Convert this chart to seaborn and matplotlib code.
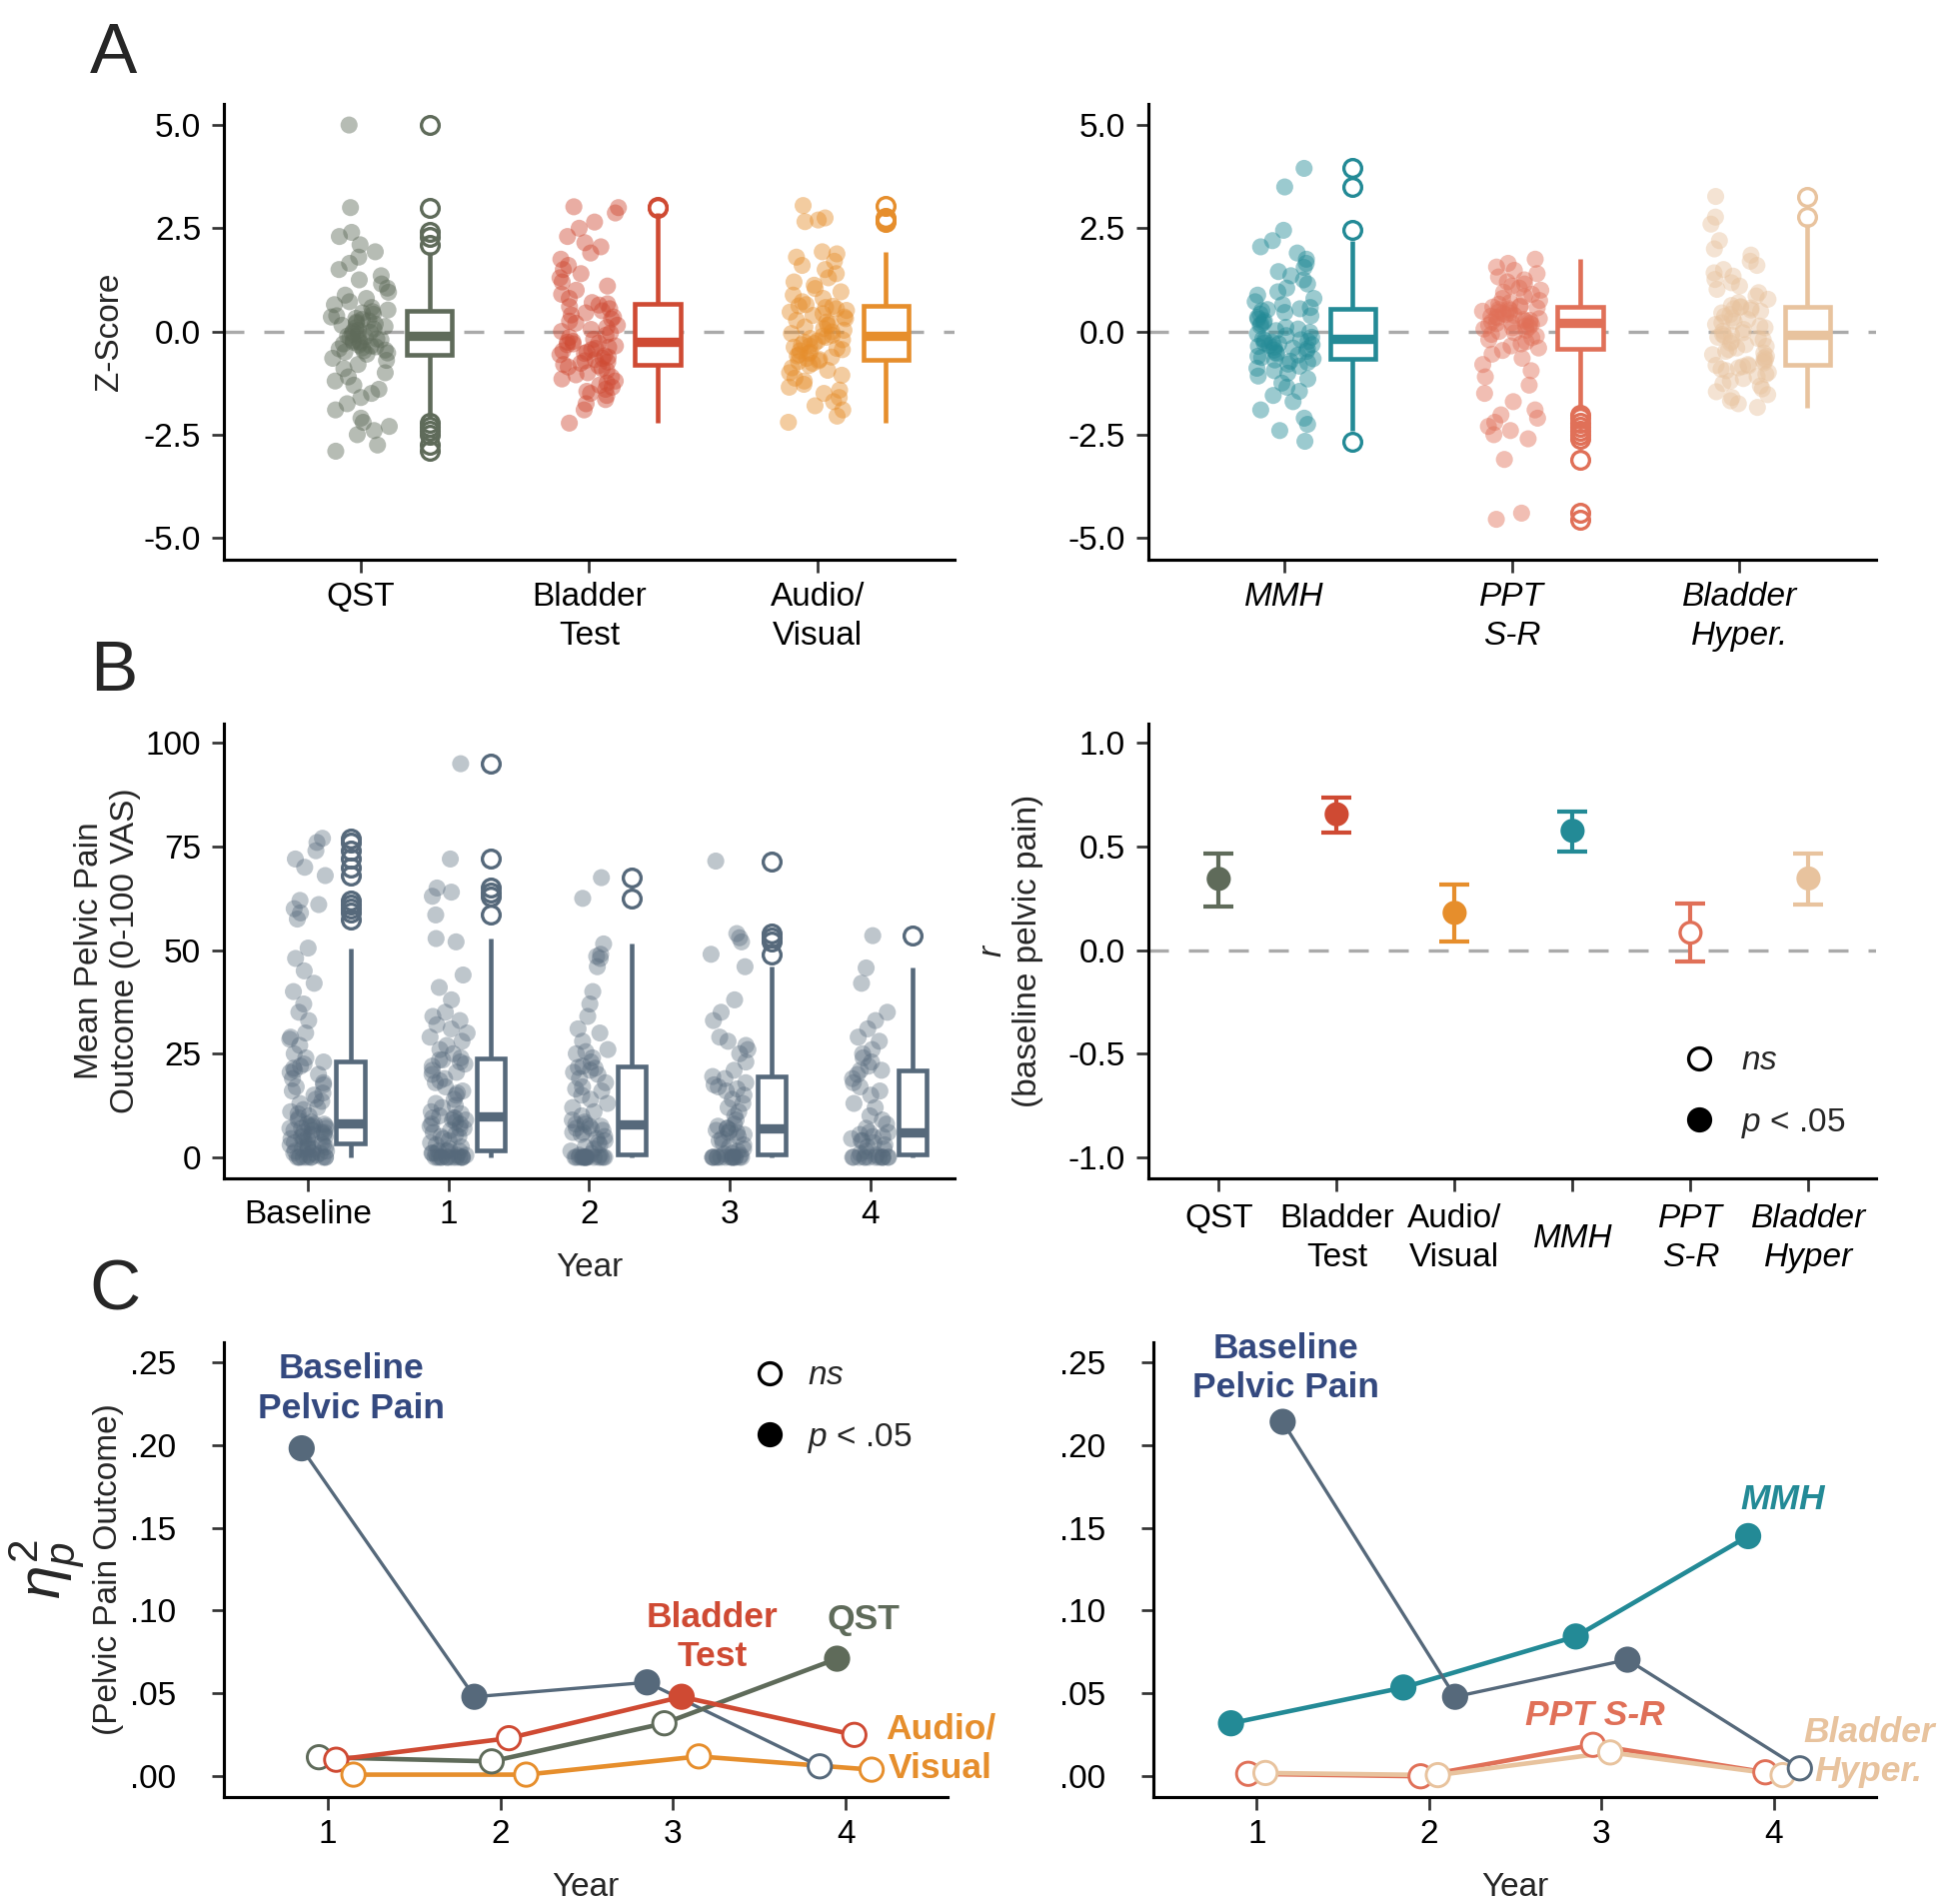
import numpy as np
import pandas as pd
import seaborn as sns
import matplotlib.pyplot as plt
from matplotlib import transforms
from matplotlib.lines import Line2D
from matplotlib.patches import PathPatch

# --- 1. 样式 ---
sns.set_theme(style="ticks")
plt.rcParams['font.family'] = ['Liberation Sans', 'DejaVu Sans']
plt.rcParams['axes.unicode_minus'] = False
plt.rcParams['mathtext.fontset'] = 'custom'
plt.rcParams['mathtext.rm'] = 'Liberation Sans'
plt.rcParams['mathtext.it'] = 'Liberation Sans:italic'
plt.rcParams['mathtext.bf'] = 'Liberation Sans:bold'
np.random.seed(7)

# colours
C_QST = "#5F6B5A"
C_BLAD = "#CF4A33"
C_AV = "#E68E2C"
C_MMH = "#238A96"
C_PPT = "#E07058"
C_BH = "#E8C39E"
C_PAIN = "#56697B"
C_PAIN_TXT = "#34497F"

# --- 2. data ---
# Panel A: z-scores per domain
a_left = ["QST", "Bladder Test", "Audio/Visual"]
a_right = ["MMH", "PPT S-R", "Bladder Hyper."]
a_left_ticks = ["QST", "Bladder\nTest", "Audio/\nVisual"]
a_right_ticks = ["MMH", "PPT\nS-R", "Bladder\nHyper."]

z_qst = [-2.9, -2.75, -2.5, -2.4, -2.3, -2.2, -2.1, -1.9, -1.75, -1.6, -1.5, -1.4, -1.3, -1.2,
         -1.1, -1.0, -0.9, -0.8, -0.7, -0.65, -0.55, -0.52, -0.5, -0.47, -0.45, -0.42, -0.4,
         -0.37, -0.35, -0.33, -0.3, -0.28, -0.26, -0.24, -0.22, -0.2, -0.18, -0.15, -0.13, -0.11,
         -0.08, -0.05, -0.02, 0.0, 0.03, 0.06, 0.09, 0.12, 0.15, 0.18, 0.2, 0.23, 0.26, 0.29,
         0.32, 0.35, 0.38, 0.42, 0.45, 0.48, 0.52, 0.58, 0.65, 0.72, 0.8, 0.88, 0.95, 1.05, 1.15,
         1.25, 1.35, 1.5, 1.65, 1.8, 1.93, 2.1, 2.3, 2.4, 3.0, 5.0]
z_bladder = [-2.22, -1.9, -1.75, -1.65, -1.55, -1.5, -1.45, -1.4, -1.35, -1.3, -1.25, -1.2, -1.15,
             -1.1, -1.05, -1.0, -0.95, -0.9, -0.86, -0.83, -0.8, -0.77, -0.74, -0.71, -0.68, -0.65,
             -0.62, -0.59, -0.56, -0.53, -0.5, -0.47, -0.44, -0.41, -0.38, -0.35, -0.32, -0.3,
             -0.28, -0.26, -0.24, -0.19, -0.14, -0.09, -0.04, 0.0, 0.05, 0.1, 0.15, 0.2, 0.25, 0.3,
             0.35, 0.4, 0.45, 0.5, 0.55, 0.6, 0.64, 0.67, 0.7, 0.8, 0.9, 1.0, 1.1, 1.2, 1.3, 1.4,
             1.5, 1.6, 1.75, 1.9, 2.05, 2.15, 2.3, 2.5, 2.65, 2.87, 3.0, 3.02]
z_av = [-2.2, -2.05, -1.9, -1.8, -1.7, -1.6, -1.5, -1.42, -1.35, -1.28, -1.2, -1.13, -1.06, -1.0,
        -0.94, -0.88, -0.82, -0.77, -0.73, -0.71, -0.68, -0.65, -0.62, -0.59, -0.56, -0.53, -0.5,
        -0.47, -0.44, -0.41, -0.38, -0.35, -0.32, -0.29, -0.26, -0.23, -0.2, -0.17, -0.14, -0.11,
        -0.09, -0.05, -0.01, 0.03, 0.07, 0.11, 0.15, 0.19, 0.23, 0.27, 0.31, 0.35, 0.39, 0.43,
        0.47, 0.51, 0.55, 0.58, 0.61, 0.62, 0.65, 0.72, 0.8, 0.88, 0.96, 1.04, 1.12, 1.2, 1.3,
        1.4, 1.5, 1.6, 1.7, 1.8, 1.88, 1.93, 2.66, 2.7, 2.75, 3.05]
z_mmh = [-2.66, -2.4, -2.25, -2.1, -1.9, -1.7, -1.55, -1.45, -1.35, -1.25, -1.15, -1.08, -1.01,
         -0.95, -0.89, -0.84, -0.79, -0.75, -0.72, -0.69, -0.66, -0.63, -0.6, -0.57, -0.54, -0.51,
         -0.48, -0.45, -0.42, -0.4, -0.38, -0.36, -0.34, -0.32, -0.3, -0.28, -0.26, -0.24, -0.22,
         -0.2, -0.18, -0.14, -0.1, -0.06, -0.02, 0.02, 0.06, 0.1, 0.14, 0.18, 0.22, 0.26, 0.3,
         0.34, 0.38, 0.42, 0.46, 0.5, 0.53, 0.55, 0.58, 0.65, 0.72, 0.8, 0.88, 0.96, 1.05, 1.15,
         1.25, 1.35, 1.45, 1.55, 1.65, 1.75, 1.9, 2.05, 2.2, 2.45, 3.5, 3.95]
z_ppt = [-4.55, -4.4, -3.1, -2.6, -2.5, -2.4, -2.3, -2.2, -2.1, -2.02, -1.9, -1.7, -1.5, -1.3,
         -1.1, -0.95, -0.8, -0.65, -0.55, -0.46, -0.4, -0.35, -0.3, -0.25, -0.2, -0.15, -0.11,
         -0.07, -0.03, 0.0, 0.03, 0.06, 0.09, 0.11, 0.13, 0.15, 0.17, 0.19, 0.2, 0.21, 0.23, 0.25,
         0.27, 0.29, 0.31, 0.33, 0.35, 0.37, 0.39, 0.41, 0.43, 0.45, 0.47, 0.49, 0.51, 0.53, 0.55,
         0.57, 0.59, 0.6, 0.62, 0.66, 0.7, 0.75, 0.8, 0.85, 0.9, 0.95, 1.0, 1.05, 1.1, 1.15, 1.2,
         1.25, 1.32, 1.4, 1.48, 1.56, 1.65, 1.75]
z_bh = [-1.84, -1.75, -1.68, -1.6, -1.53, -1.46, -1.39, -1.32, -1.26, -1.2, -1.14, -1.09, -1.04,
        -0.99, -0.95, -0.91, -0.88, -0.85, -0.83, -0.82, -0.8, -0.76, -0.72, -0.68, -0.64, -0.6,
        -0.56, -0.52, -0.48, -0.44, -0.4, -0.36, -0.32, -0.28, -0.24, -0.2, -0.17, -0.14, -0.11,
        -0.09, -0.07, -0.03, 0.01, 0.05, 0.09, 0.13, 0.17, 0.21, 0.25, 0.29, 0.33, 0.37, 0.41,
        0.45, 0.49, 0.52, 0.55, 0.57, 0.59, 0.6, 0.63, 0.7, 0.78, 0.86, 0.94, 1.02, 1.1, 1.18,
        1.26, 1.34, 1.42, 1.5, 1.6, 1.7, 1.85, 2.0, 2.2, 2.6, 2.77, 3.27]

# Panel B left: mean pelvic pain (0-100 VAS) by visit
b_visits = ["Baseline", "1", "2", "3", "4"]
pain_base = [0, 0, 0, 0, 0, 0, 0, 0, 0, 0, 0.5, 0.5, 1, 1, 1, 1.5, 1.5, 2, 2, 2, 2.5, 2.5, 3, 3, 3,
             3.5, 3.5, 4, 4, 4.5, 4.5, 5, 5, 5, 5.5, 5.5, 6, 6, 6, 6.5, 6.5, 7, 7, 7, 7.5, 7.5, 7.5,
             8, 8, 8, 8.5, 9, 9.5, 10, 10.5, 11, 11.5, 12, 13, 13.5, 14, 15, 15.5, 16, 17, 17.5, 18,
             19, 20, 20.5, 21, 21.5, 22, 22.5, 23, 24, 25, 27, 28.5, 29, 30, 33, 35, 37, 40, 42, 45,
             48, 50.5, 57.5, 59, 60, 61, 62, 68, 70, 72, 74, 76, 77]
pain_y1 = [0, 0, 0, 0, 0, 0, 0, 0, 0, 0, 0, 0, 0, 0, 0.5, 0.5, 1, 1, 1, 1.5, 1.5, 1.5, 1.5, 2, 2.5,
           3, 3.5, 4, 4.5, 5, 5, 5.5, 6, 6.5, 7, 7, 7.5, 8, 8, 8.5, 9, 9, 9.5, 9.5, 9.5, 10, 10.5,
           11, 12, 12.5, 13, 14, 15, 15.5, 16, 17, 18, 18.5, 19, 20, 20.5, 21, 22, 22.5, 23, 23.5,
           23.5, 24, 25, 26, 27, 28, 29, 30, 31, 32, 33, 34, 35, 38, 41, 44, 52, 52.8, 58.5, 63,
           64, 65, 72, 95]
pain_y2 = [0, 0, 0, 0, 0, 0, 0, 0, 0, 0, 0, 0, 0, 0, 0, 0, 0, 0.5, 0.5, 0.9, 1.5, 2, 2.5, 3, 3.5,
           4, 4.5, 5, 5.5, 6, 6, 6.5, 7, 7, 7.5, 7.5, 8, 8, 8.5, 9, 10, 11, 12, 13, 14, 15, 16,
           16.5, 17, 18, 19, 20, 20.5, 21, 21.5, 21.7, 22, 23, 24, 25, 25.5, 26, 28, 30, 31, 34,
           37, 40, 46, 48, 48.5, 49, 51.5, 62.5, 67.5]
pain_y3 = [0, 0, 0, 0, 0, 0, 0, 0, 0, 0, 0, 0, 0, 0, 0, 0.5, 0.8, 1, 1.5, 2, 2.5, 3, 3.5, 4, 4.5,
           5, 5.5, 6, 6, 6.5, 6.5, 7, 7, 7.5, 8, 9, 10, 11, 12, 13, 14, 15, 16, 16.5, 17, 17.5, 18,
           19, 19.5, 21, 23, 25, 26, 27, 28, 29, 33, 35, 38, 46, 49, 52, 53, 54, 71.5]
pain_y4 = [0, 0, 0, 0, 0, 0, 0, 0, 0, 0, 0, 0, 0, 0.5, 0.9, 1.5, 2, 2.5, 3, 3.5, 4, 4, 4.5, 5, 5,
           5.5, 6, 6, 7, 8, 9, 10, 12, 13, 15, 16, 17, 18, 19, 20, 21, 21, 22, 23, 24, 25, 26, 28,
           29, 31, 33, 35, 42, 45.7, 53.5]

# Panel B right: correlation with baseline pelvic pain (estimate, 95% CI)
r_domains = ["QST", "Bladder Test", "Audio/Visual", "MMH", "PPT S-R", "Bladder Hyper"]
r_ticks = ["QST\n ", "Bladder\nTest", "Audio/\nVisual", "MMH", "PPT\nS-R", "Bladder\nHyper"]
r_est = [0.344, 0.656, 0.18, 0.576, 0.084, 0.346]
r_lo = [0.21, 0.57, 0.04, 0.474, -0.054, 0.22]
r_hi = [0.464, 0.736, 0.316, 0.67, 0.226, 0.466]
r_sig = [True, True, True, True, False, True]

# Panel C: partial eta squared by year
years = [1, 2, 3, 4]
eta_left = {
    "Baseline Pelvic Pain": [0.198, 0.048, 0.0567, 0.006],
    "QST": [0.0115, 0.009, 0.032, 0.071],
    "Bladder Test": [0.010, 0.023, 0.048, 0.025],
    "Audio/Visual": [0.001, 0.001, 0.012, 0.004],
}
sig_left = {
    "Baseline Pelvic Pain": [True, True, True, False],
    "QST": [False, False, False, True],
    "Bladder Test": [False, False, True, False],
    "Audio/Visual": [False, False, False, False],
}
eta_right = {
    "MMH": [0.032, 0.0536, 0.0844, 0.145],
    "PPT S-R": [0.0015, 0.0, 0.019, 0.0024],
    "Bladder Hyper.": [0.002, 0.0007, 0.0144, 0.0007],
    "Baseline Pelvic Pain": [0.214, 0.048, 0.0704, 0.0048],
}
sig_right = {
    "MMH": [True, True, True, True],
    "PPT S-R": [False, False, False, False],
    "Bladder Hyper.": [False, False, False, False],
    "Baseline Pelvic Pain": [True, True, True, False],
}

# --- 3. style maps ---
pal = {"QST": C_QST, "Bladder Test": C_BLAD, "Audio/Visual": C_AV, "MMH": C_MMH,
       "PPT S-R": C_PPT, "Bladder Hyper.": C_BH, "Bladder Hyper": C_BH,
       "Baseline Pelvic Pain": C_PAIN}
dodge_left = {"Baseline Pelvic Pain": -0.15, "QST": -0.05, "Bladder Test": 0.05, "Audio/Visual": 0.15}
dodge_right = {"MMH": -0.15, "PPT S-R": -0.05, "Bladder Hyper.": 0.05, "Baseline Pelvic Pain": 0.15}

FS = 16
PT_SIZE = 8.2


def style_axes(ax):
    sns.despine(ax=ax)
    for s in ("left", "bottom"):
        ax.spines[s].set_linewidth(1.5)
        ax.spines[s].set_color("black")
    ax.tick_params(axis="both", length=6, width=1.3, color="#333333", labelsize=FS,
                   labelcolor="black")
    ax.tick_params(axis="x", pad=4.5)
    ax.tick_params(axis="y", pad=5)
    for lbl in ax.get_xticklabels():
        lbl.set_linespacing(1.35)


def zero_line(ax):
    ax.axhline(0, color="#AAAAAA", lw=1.6, dashes=(6, 6), zorder=0.5)


def box_shifted(ax, df, grp, order, color, shift, width):
    before = set(ax.get_children())
    sns.boxplot(data=df[df["grp"] == grp], x="grp", y="val", order=order, color="white",
                linecolor=color, linewidth=2.2, width=width, saturation=1, showcaps=False,
                flierprops=dict(marker="o", markersize=8.5, markerfacecolor="none",
                                markeredgecolor=color, markeredgewidth=1.6),
                ax=ax, zorder=2)
    for med in ax.containers[-1].medians:
        med.set_linewidth(4.5)
    off = transforms.Affine2D().translate(shift, 0) + ax.transData
    for art in set(ax.get_children()) - before:
        if isinstance(art, (Line2D, PathPatch)):
            art.set_transform(off)


def strip_box_panel(ax, groups, values, colors, jitter, alpha, dashed=True):
    df = pd.DataFrame({"grp": np.repeat(groups, [len(v) for v in values]),
                       "val": np.concatenate(values)})
    if dashed:
        zero_line(ax)
    sns.stripplot(data=df, x="grp", y="val", hue="grp", order=groups, hue_order=groups,
                  palette=dict(zip(groups, colors)), jitter=jitter, size=PT_SIZE, alpha=alpha,
                  linewidth=0, legend=False, ax=ax, zorder=1)
    for g, c in zip(groups, colors):
        box_shifted(ax, df, g, groups, c, 0.30, 0.2)


fig = plt.figure(figsize=(13, 12.7), dpi=150)

# --- Panel A ---
axA1 = fig.add_axes([0.1149, 0.706, 0.3748, 0.2394])
axA2 = fig.add_axes([0.589, 0.706, 0.3734, 0.2394])
strip_box_panel(axA1, a_left, [z_qst, z_bladder, z_av], [C_QST, C_BLAD, C_AV], 0.13, 0.45)
strip_box_panel(axA2, a_right, [z_mmh, z_ppt, z_bh], [C_MMH, C_PPT, C_BH], 0.13, 0.45)
for ax, ticks in ((axA1, a_left_ticks), (axA2, a_right_ticks)):
    ax.set_xlim(-0.6, 2.6)
    ax.set_ylim(-5.53, 5.51)
    ax.set_yticks([-5, -2.5, 0, 2.5, 5])
    ax.yaxis.set_major_formatter(plt.FuncFormatter(lambda v, p: f"{v:.1f}"))
    ax.set_xticks(range(3), labels=ticks)
    ax.set_xlabel("")
    style_axes(ax)
axA1.set_ylabel("Z-Score", fontsize=FS, va="center")
axA1.yaxis.set_label_coords(-0.157, 0.5)
axA2.set_ylabel("")
for lbl in axA2.get_xticklabels():
    lbl.set_fontstyle("italic")

# --- Panel B left ---
axB1 = fig.add_axes([0.1149, 0.3813, 0.3748, 0.2387])
strip_box_panel(axB1, b_visits, [pain_base, pain_y1, pain_y2, pain_y3, pain_y4],
                [C_PAIN] * 5, 0.133, 0.38, dashed=False)
axB1.set_xlim(-0.6, 4.6)
axB1.set_ylim(-5, 104.7)
axB1.set_yticks([0, 25, 50, 75, 100])
axB1.set_xticks(range(5), labels=b_visits)
style_axes(axB1)
axB1.set_xlabel("Year", fontsize=FS, labelpad=10.5)
axB1.set_ylabel("Mean Pelvic Pain\nOutcome (0-100 VAS)", fontsize=FS, va="center")
axB1.yaxis.set_label_coords(-0.16, 0.5)

# --- Panel B right ---
axB2 = fig.add_axes([0.589, 0.3813, 0.3734, 0.2387])
zero_line(axB2)
r_df = pd.DataFrame({"domain": r_domains, "est": r_est, "lo": r_lo, "hi": r_hi, "sig": r_sig})
r_df["pos"] = np.arange(len(r_df))
for _, row in r_df.iterrows():
    col = pal[row["domain"]]
    axB2.errorbar(row["pos"], row["est"], yerr=[[row["est"] - row["lo"]], [row["hi"] - row["est"]]],
                  fmt="none", ecolor=col, elinewidth=2.0, capsize=7, capthick=2.0, zorder=2)
sns.scatterplot(data=r_df, x="pos", y="est", hue="domain", palette=pal, s=100,
                linewidth=1.6, legend=False, ax=axB2, zorder=3)
pts = axB2.collections[-1]
face = [pal[d] if s else "white" for d, s in zip(r_df["domain"], r_df["sig"])]
pts.set_facecolors(face)
pts.set_edgecolors([pal[d] for d in r_df["domain"]])
axB2.set_xlim(-0.6, 5.57)
axB2.set_ylim(-1.1, 1.094)
axB2.set_yticks([-1, -0.5, 0, 0.5, 1])
axB2.yaxis.set_major_formatter(plt.FuncFormatter(lambda v, p: f"{v:.1f}"))
axB2.set_xticks(r_df["pos"], labels=r_ticks, va="center")
style_axes(axB2)
axB2.tick_params(axis="x", pad=23)
for i, lbl in enumerate(axB2.get_xticklabels()):
    if i >= 3:
        lbl.set_fontstyle("italic")
axB2.set_xlabel("")
axB2.set_ylabel("$r$\n(baseline pelvic pain)", fontsize=FS, va="center")
axB2.yaxis.set_label_coords(-0.189, 0.5)

sig_handles = [Line2D([], [], marker="o", ls="", ms=10.5, mfc="white", mec="black", mew=1.6),
               Line2D([], [], marker="o", ls="", ms=10.5, mfc="black", mec="black", mew=1.6)]
sig_labels = ["$ns$", "$p$ < .05"]
axB2.legend(sig_handles, sig_labels, loc="center left", bbox_to_anchor=(0.735, 0.187),
            frameon=False, fontsize=FS, handlelength=1.0, handletextpad=0.75,
            labelspacing=0.88, borderpad=0, borderaxespad=0)


# --- Panel C ---
def eta_panel(ax, eta, sig, dodge, lw_map):
    for name, vals in eta.items():
        col = pal[name]
        xs = np.array(years) + dodge[name]
        sns.lineplot(x=xs, y=vals, color=col, lw=lw_map.get(name, 2.2), ax=ax, zorder=2)
        ax.scatter(xs, vals, s=125, c=[col if s else "white" for s in sig[name]],
                   edgecolors=col, linewidths=1.4, zorder=3)
    ax.set_xlim(0.4, 4.59)
    ax.set_ylim(-0.0125, 0.262)
    ax.set_xticks(years)
    ax.set_yticks([0, 0.05, 0.10, 0.15, 0.20, 0.25])
    ax.yaxis.set_major_formatter(plt.FuncFormatter(lambda v, p: f"{v:.2f}"[1:]))
    style_axes(ax)
    ax.tick_params(axis="y", pad=17)
    ax.set_xlabel("Year", fontsize=FS, labelpad=10.5)


axC1 = fig.add_axes([0.1149, 0.0562, 0.3713, 0.2388])
axC2 = fig.add_axes([0.5918, 0.0562, 0.3706, 0.2388])
eta_panel(axC1, eta_left, sig_left, dodge_left, {"Baseline Pelvic Pain": 1.6})
eta_panel(axC2, eta_right, sig_right, dodge_right, {"Baseline Pelvic Pain": 1.6})
axC1.set_ylabel("(Pelvic Pain Outcome)", fontsize=FS, va="center")
axC1.yaxis.set_label_coords(-0.16, 0.5)
axC1.text(-0.243, 0.5, r"$\eta_p^2$", transform=axC1.transAxes, rotation=90, fontsize=29,
          ha="center", va="center")
axC2.set_ylabel("")

lab_kw = dict(fontsize=17, fontweight="bold", ha="center", va="center", clip_on=False,
              linespacing=1.25)
axC1.text(1.14, 0.234, "Baseline\nPelvic Pain", color=C_PAIN_TXT, **lab_kw)
axC1.text(3.226, 0.084, "Bladder\nTest", color=C_BLAD, **lab_kw)
axC1.text(4.104, 0.0946, "QST", color=C_QST, **lab_kw)
axC1.text(4.55, 0.0166, "Audio/\nVisual", color=C_AV, **lab_kw)
axC2.text(1.17, 0.2464, "Baseline\nPelvic Pain", color=C_PAIN_TXT, **lab_kw)
axC2.text(4.05, 0.167, "MMH", color=C_MMH, style="italic", **lab_kw)
axC2.text(2.96, 0.0368, "PPT S-R", color=C_PPT, style="italic", **lab_kw)
axC2.text(4.55, 0.0147, "Bladder\nHyper.", color=C_BH, style="italic", **lab_kw)

axC1.legend(sig_handles, sig_labels, loc="center left", bbox_to_anchor=(0.731, 0.856),
            frameon=False, fontsize=FS, handlelength=1.0, handletextpad=0.65,
            labelspacing=0.88, borderpad=0, borderaxespad=0)

# panel letters
for letter, y in (("A", 0.9885), ("B", 0.664), ("C", 0.339)):
    fig.text(0.046, y, letter, fontsize=34, va="top", ha="left")

fig.savefig("out.png", dpi=150)
